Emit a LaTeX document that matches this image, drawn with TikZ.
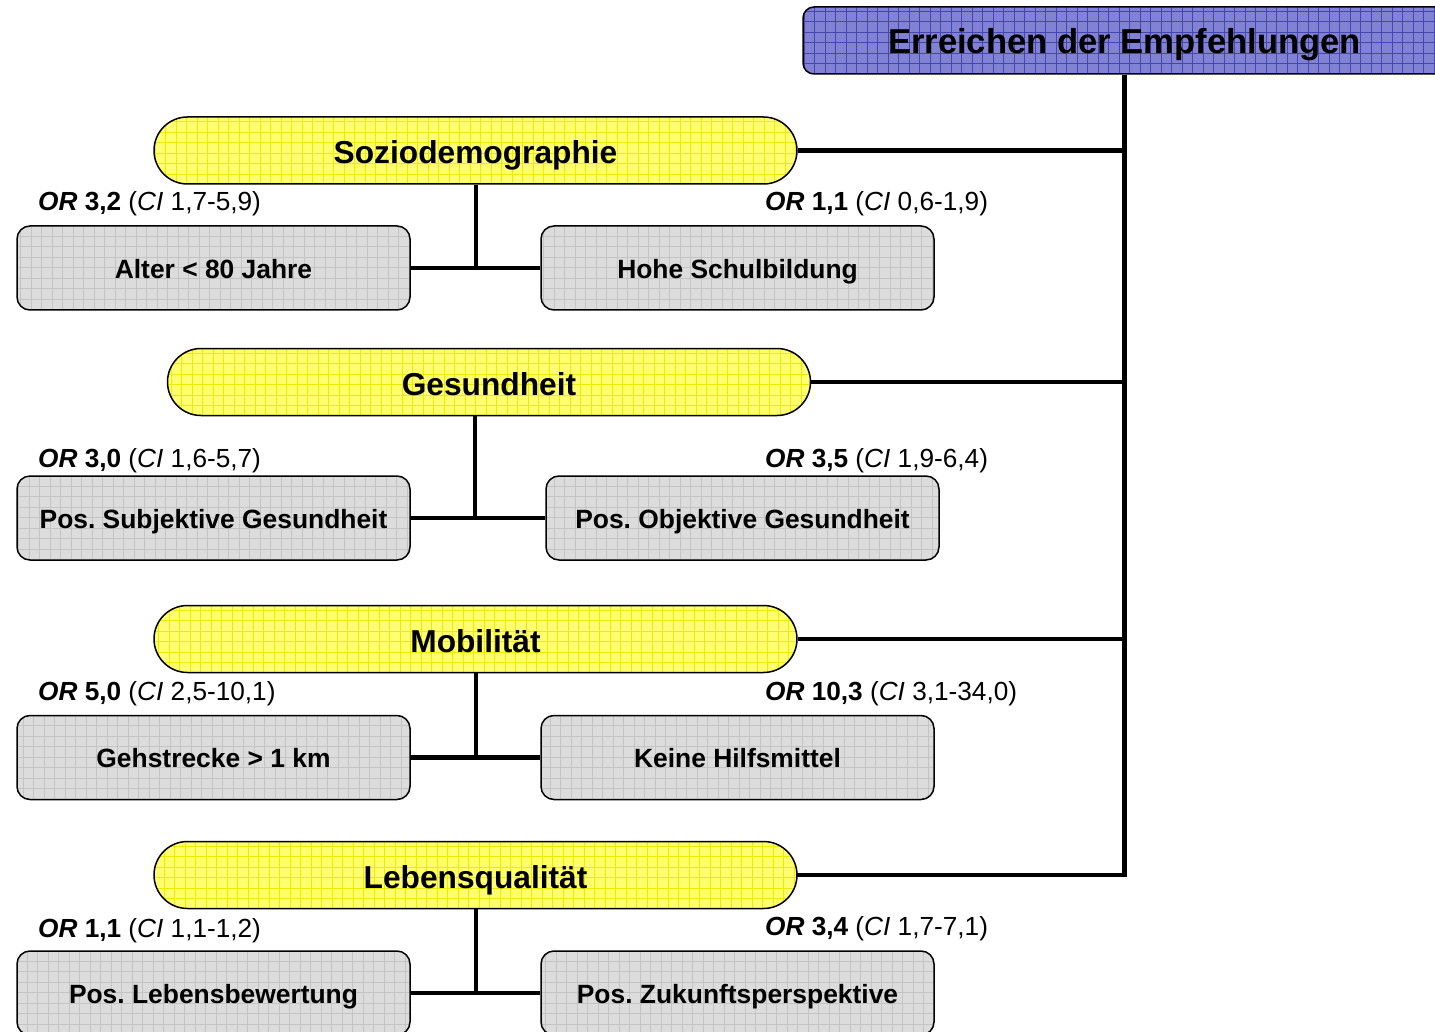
\documentclass[tikz,border=0pt]{standalone}
\usepackage{fontspec}
\setmainfont{Liberation Sans}
\usetikzlibrary{shapes.misc}
\definecolor{bluefill}{RGB}{130,130,212}
\definecolor{bluegrid}{RGB}{70,70,175}
\definecolor{yelfill}{RGB}{255,255,112}
\definecolor{yelgrid}{RGB}{236,236,0}
\definecolor{grayfill}{RGB}{220,220,220}
\definecolor{graygrid}{RGB}{196,196,196}
\tikzset{
  gridfill/.style={path picture={\draw[#1, line width=0.6pt, step=10.5pt]
     ([xshift=-20pt,yshift=-20pt]path picture bounding box.south west) grid
     ([xshift=20pt,yshift=20pt]path picture bounding box.north east);}},
  topbox/.style={draw, line width=1.5pt, rounded corners=11pt, fill=bluefill, gridfill=bluegrid,
     minimum width=643pt, minimum height=67pt, inner sep=0pt, text height=25.6pt, text depth=0pt,
     font=\fontsize{34.6}{38}\selectfont\bfseries},
  headbox/.style={draw, line width=1.5pt, rounded rectangle, fill=yelfill, gridfill=yelgrid,
     minimum width=643pt, minimum height=67pt, inner sep=0pt, text height=26pt, text depth=0pt,
     font=\fontsize{31.7}{36}\selectfont\bfseries},
  itembox/.style={draw, line width=1.5pt, rounded corners=13pt, fill=grayfill, gridfill=graygrid,
     minimum width=393pt, minimum height=84pt, inner sep=0pt, text height=20.5pt, text depth=0pt,
     font=\fontsize{26.4}{30}\selectfont\bfseries},
  orlabel/.style={anchor=west, inner sep=0pt, text height=21.5pt, text depth=0pt,
     font=\fontsize{26.2}{30}\selectfont},
  conn/.style={line width=4.5pt}
}
\frenchspacing
\newcommand{\orl}[2]{\textbf{\textit{OR} #1} (\textit{CI} #2)}
\begin{document}
\begin{tikzpicture}[x=1pt,y=-1pt]
\useasboundingbox (0,0) rectangle (1435,1032);
\clip (0,0) rectangle (1435,1032);
\node[topbox] (top) at (1124.5,40.5) {Erreichen der Empfehlungen};
\node[headbox] (h1) at (475.5,150.5) {Soziodemographie};
\node[headbox] (h2) at (489,382) {Gesundheit};
\node[headbox] (h3) at (475.5,639) {Mobilität};
\node[headbox] (h4) at (475.5,875) {Lebensqualität};

\node[itembox] (a1) at (213.5,268) {Alter < 80 Jahre};
\node[itembox] (b1) at (737.5,268) {Hohe Schulbildung};
\node[itembox] (a2) at (213.5,518) {Pos. Subjektive Gesundheit};
\node[itembox] (b2) at (742.5,518) {Pos. Objektive Gesundheit};
\node[itembox] (a3) at (213.5,757.5) {Gehstrecke > 1 km};
\node[itembox] (b3) at (737.5,757.5) {Keine Hilfsmittel};
\node[itembox] (a4) at (213.5,993) {Pos. Lebensbewertung};
\node[itembox] (b4) at (737.5,993) {Pos. Zukunftsperspektive};

\node[orlabel] (la1) at (38,200) {\orl{3,2}{1,7-5,9}};
\node[orlabel] (lb1) at (765,200) {\orl{1,1}{0,6-1,9}};
\node[orlabel] (la2) at (38,457) {\orl{3,0}{1,6-5,7}};
\node[orlabel] (lb2) at (765,457) {\orl{3,5}{1,9-6,4}};
\node[orlabel] (la3) at (38,690) {\orl{5,0}{2,5-10,1}};
\node[orlabel] (lb3) at (765,690) {\orl{10,3}{3,1-34,0}};
\node[orlabel] (la4) at (38,927) {\orl{1,1}{1,1-1,2}};
\node[orlabel] (lb4) at (765,925) {\orl{3,4}{1,7-7,1}};

\draw[conn] (top.south) -- (top.south |- h4.east);
\draw[conn] (h1.east) -- (h1.east -| top.south);
\draw[conn] (h2.east) -- (h2.east -| top.south);
\draw[conn] (h3.east) -- (h3.east -| top.south);
\draw[conn] ([xshift=-1pt]h4.east) -- ([xshift=2.25pt]h4.east -| top.south);

\coordinate (j1) at (476,268);
\coordinate (j2) at (475,518);
\coordinate (j3) at (476,757.5);
\coordinate (j4) at (476,993);
\draw[conn] (h1.south -| j1) -- (j1);
\draw[conn] (a1.east) -- (b1.west);
\draw[conn] (h2.south -| j2) -- (j2);
\draw[conn] (a2.east) -- (b2.west);
\draw[conn] (h3.south -| j3) -- (j3);
\draw[conn] (a3.east) -- (b3.west);
\draw[conn] (h4.south -| j4) -- (j4);
\draw[conn] (a4.east) -- (b4.west);
\end{tikzpicture}
\end{document}
